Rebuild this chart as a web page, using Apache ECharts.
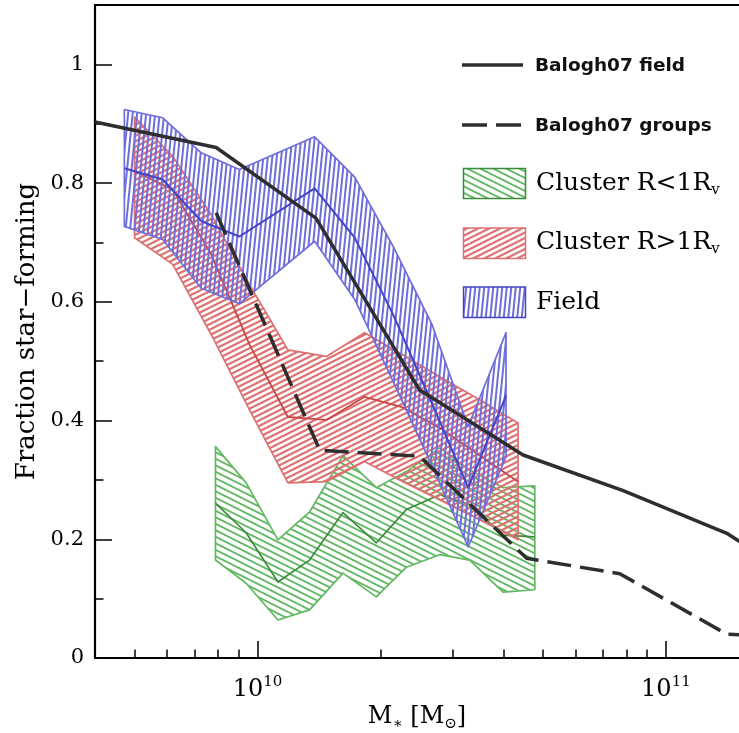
<!DOCTYPE html>
<html>
<head>
<meta charset="utf-8">
<script src="https://cdn.jsdelivr.net/npm/echarts@6/dist/echarts.min.js"></script>
<style>
  html, body { margin: 0; padding: 0; background: #fff; }
  #chart { width: 739px; height: 733px; }
</style>
</head>
<body>
<div id="chart"></div>
<script>
// Field galaxies: stellar mass bins and star-forming fraction (upper / median / lower)
const fieldMass   = [4.72e9, 5.86e9, 7.28e9, 9.03e9, 1.38e10, 1.73e10, 2.15e10, 2.67e10, 3.28e10, 4.06e10];
const fieldUpper  = [0.924, 0.910, 0.851, 0.823, 0.878, 0.810, 0.693, 0.563, 0.390, 0.548];
const fieldMedian = [0.825, 0.806, 0.736, 0.710, 0.791, 0.708, 0.578, 0.430, 0.287, 0.442];
const fieldLower  = [0.727, 0.705, 0.623, 0.597, 0.702, 0.604, 0.465, 0.325, 0.187, 0.339];

// Cluster outskirts, R > 1 R_v
const outerMass   = [5.0e9, 6.2e9, 7.7e9, 9.56e9, 1.187e10, 1.474e10, 1.829e10, 2.27e10, 2.82e10, 3.5e10, 4.345e10];
const outerUpper  = [0.911, 0.845, 0.747, 0.629, 0.519, 0.508, 0.548, 0.511, 0.472, 0.435, 0.396];
const outerMedian = [0.820, 0.789, 0.680, 0.528, 0.406, 0.401, 0.440, 0.422, 0.386, 0.341, 0.297];
const outerLower  = [0.708, 0.663, 0.545, 0.418, 0.295, 0.297, 0.331, 0.297, 0.265, 0.233, 0.199];

// Cluster cores, R < 1 R_v
const innerMass   = [7.89e9, 9.38e9, 1.122e10, 1.341e10, 1.619e10, 1.954e10, 2.314e10, 2.793e10, 3.309e10, 3.993e10, 4.775e10];
const innerUpper  = [0.356, 0.295, 0.199, 0.246, 0.341, 0.287, 0.314, 0.354, 0.317, 0.287, 0.290];
const innerMedian = [0.261, 0.211, 0.128, 0.165, 0.245, 0.194, 0.250, 0.275, 0.258, 0.207, 0.204];
const innerLower  = [0.165, 0.126, 0.064, 0.081, 0.143, 0.103, 0.153, 0.174, 0.165, 0.111, 0.115];

// Balogh et al. (2007) relations
const baloghFieldMass  = [4.0e9, 7.92e9, 1.39e10, 2.49e10, 4.47e10, 7.86e10, 1.41e11, 1.7e11];
const baloghField      = [0.903, 0.860, 0.741, 0.452, 0.342, 0.282, 0.210, 0.174];
const baloghGroupsMass = [7.92e9, 1.42e10, 2.49e10, 4.56e10, 7.71e10, 1.41e11, 1.7e11];
const baloghGroups     = [0.750, 0.350, 0.340, 0.168, 0.142, 0.040, 0.038];

// Axis ticks
const xMajorTicks = [1e10, 1e11];
const xMajorExponents = ['10', '11'];
const xMinorTicks = [5e9, 6e9, 7e9, 8e9, 9e9, 2e10, 3e10, 4e10, 5e10, 6e10, 7e10, 8e10, 9e10];
const yMajorTicks = [0, 0.2, 0.4, 0.6, 0.8, 1];
const yMinorTicks = [0.1, 0.3, 0.5, 0.7, 0.9];

const SERIF = '"DejaVu Serif", serif';
const BLUE = '#6e6edc', BLUE_DARK = '#4444c8';
const RED = '#de7070', RED_DARK = '#c84848';
const GREEN = '#62b862', GREEN_DARK = '#3a8a3a';
const BLACK = '#2e2e2e';

// Repeating hatch tiles
function makeHatch(w, h, color, lw, drawLines) {
  const c = document.createElement('canvas');
  c.width = w; c.height = h;
  const ctx = c.getContext('2d');
  ctx.strokeStyle = color;
  ctx.lineWidth = lw;
  ctx.beginPath();
  drawLines(ctx);
  ctx.stroke();
  return { image: c, repeat: 'repeat' };
}
// "\" lines, slope 0.5, vertical spacing 6.5
const greenHatch = makeHatch(26, 13, GREEN, 1.9, ctx => {
  for (let c = -39; c <= 26; c += 6.5) { ctx.moveTo(-4, c - 2); ctx.lineTo(30, c + 15); }
});
// "/" lines, slope -0.5, vertical spacing 5.5
const redHatch = makeHatch(22, 11, RED, 2.1, ctx => {
  for (let c = -11; c <= 33; c += 5.5) { ctx.moveTo(-4, c + 2); ctx.lineTo(26, c - 13); }
});
// near-vertical lines, spacing 4.5
const blueHatch = makeHatch(9, 45, BLUE, 2.0, ctx => {
  for (let c = -9; c <= 18; c += 4.5) { ctx.moveTo(c + 0.3, -3); ctx.lineTo(c - 4.8, 48); }
});

function band(name, mass, upper, lower, fill, stroke, z) {
  return {
    type: 'custom', name, z, silent: true, animation: false,
    data: mass.map((m, i) => [m, upper[i], lower[i]]),
    encode: { x: 0, y: [1, 2] },
    renderItem(params, api) {
      if (params.dataIndexInside !== 0) return null;
      const n = params.dataInsideLength;
      const top = [], bottom = [];
      for (let i = 0; i < n; i++) {
        top.push(api.coord([api.value(0, i), api.value(1, i)]));
        bottom.push(api.coord([api.value(0, i), api.value(2, i)]));
      }
      return {
        type: 'polygon',
        shape: { points: top.concat(bottom.reverse()) },
        style: { fill, stroke, lineWidth: 1.7, lineJoin: 'round' }
      };
    }
  };
}

function line(name, mass, vals, color, width, z, dash) {
  return {
    type: 'line', name, z, silent: true, animation: false,
    data: mass.map((m, i) => [m, vals[i]]),
    symbol: 'none',
    lineStyle: { color, width, type: dash || 'solid', cap: 'butt', join: 'round' }
  };
}

const xBase = { type: 'log', logBase: 10, min: 4e9, max: 1.51e11, splitLine: { show: false } };
const yBase = { type: 'value', min: 0, max: 1.1, splitLine: { show: false } };

const chart = echarts.init(document.getElementById('chart'), null, { renderer: 'canvas' });
chart.setOption({
  backgroundColor: '#fff',
  animation: false,
  grid: { left: 95, right: 0, top: 5, bottom: 75, containLabel: false, outerBoundsMode: 'none' },
  xAxis: [
    Object.assign({}, xBase, {
      position: 'bottom',
      axisLine: { show: true, onZero: false, lineStyle: { color: '#000', width: 2.2 } },
      axisTick: { show: true, inside: true, length: 17, customValues: xMajorTicks, lineStyle: { color: '#000', width: 1.5 } },
      axisLabel: {
        show: true, customValues: xMajorTicks, margin: 17, color: '#000',
        formatter: v => '10{sup|' + xMajorExponents[xMajorTicks.indexOf(v)] + '}',
        rich: {
          sup: { fontFamily: SERIF, fontSize: 15, color: '#000', verticalAlign: 'top', lineHeight: 30 }
        },
        fontFamily: SERIF, fontSize: 24, lineHeight: 30
      },
      name: 'M{sub|∗} [M{sub|⊙}]',
      nameLocation: 'middle', nameGap: 44, nameMoveOverlap: false,
      nameTextStyle: {
        fontFamily: SERIF, fontSize: 24, color: '#000', lineHeight: 30,
        rich: { sub: { fontFamily: SERIF, fontSize: 15, color: '#000', verticalAlign: 'bottom', lineHeight: 30 } }
      }
    }),
    Object.assign({}, xBase, {
      position: 'bottom',
      axisLine: { show: false },
      axisTick: { show: true, inside: true, length: 8.5, customValues: xMinorTicks, lineStyle: { color: '#000', width: 1.5 } },
      axisLabel: { show: false }
    }),
    Object.assign({}, xBase, {
      position: 'top',
      axisLine: { show: true, onZero: false, lineStyle: { color: '#000', width: 2.2 } },
      axisTick: { show: false },
      axisLabel: { show: false }
    })
  ],
  yAxis: [
    Object.assign({}, yBase, {
      position: 'left',
      axisLine: { show: true, onZero: false, lineStyle: { color: '#000', width: 2.2 } },
      axisTick: { show: true, inside: true, length: 17, customValues: yMajorTicks, lineStyle: { color: '#000', width: 1.5 } },
      axisLabel: { show: true, customValues: yMajorTicks, margin: 11, color: '#000', fontFamily: SERIF, fontSize: 21 },
      name: 'Fraction star−forming',
      nameLocation: 'middle', nameGap: 55, nameRotate: 90, nameMoveOverlap: false,
      nameTextStyle: { fontFamily: SERIF, fontSize: 26, color: '#000' }
    }),
    Object.assign({}, yBase, {
      position: 'left',
      axisLine: { show: false },
      axisTick: { show: true, inside: true, length: 8.5, customValues: yMinorTicks, lineStyle: { color: '#000', width: 1.5 } },
      axisLabel: { show: false }
    })
  ],
  series: [
    band('Cluster R<1Rv', innerMass, innerUpper, innerLower, greenHatch, GREEN, 1),
    line('Cluster R<1Rv median', innerMass, innerMedian, GREEN_DARK, 1.6, 1),
    band('Cluster R>1Rv', outerMass, outerUpper, outerLower, redHatch, RED, 2),
    line('Cluster R>1Rv median', outerMass, outerMedian, RED_DARK, 1.8, 2),
    band('Field', fieldMass, fieldUpper, fieldLower, blueHatch, BLUE, 3),
    line('Field median', fieldMass, fieldMedian, BLUE_DARK, 2, 3),
    line('Balogh07 field', baloghFieldMass, baloghField, BLACK, 3.5, 5),
    line('Balogh07 groups', baloghGroupsMass, baloghGroups, BLACK, 3.5, 5, [24, 9])
  ],
  graphic: [
    { type: 'line', shape: { x1: 462, y1: 65, x2: 523, y2: 65 }, style: { stroke: BLACK, lineWidth: 3.5 } },
    { type: 'text', x: 535, y: 66, style: { text: 'Balogh07 field', font: 'bold 18.5px "DejaVu Sans"', fill: '#111', verticalAlign: 'middle' } },
    { type: 'line', shape: { x1: 462, y1: 125, x2: 522, y2: 125 }, style: { stroke: BLACK, lineWidth: 3.5, lineDash: [25, 9] } },
    { type: 'text', x: 535, y: 126, style: { text: 'Balogh07 groups', font: 'bold 18.5px "DejaVu Sans"', fill: '#111', verticalAlign: 'middle' } },

    { type: 'rect', shape: { x: 463.5, y: 168.5, width: 62, height: 30 }, style: { fill: greenHatch, stroke: GREEN_DARK, lineWidth: 1.5 } },
    { type: 'text', x: 536, y: 183, style: {
        text: 'Cluster R<1R{sub|v}', fontFamily: SERIF, fontSize: 25, fill: '#000', lineHeight: 30, verticalAlign: 'middle',
        rich: { sub: { fontFamily: SERIF, fontSize: 15, fill: '#000', verticalAlign: 'bottom', lineHeight: 30 } } } },
    { type: 'rect', shape: { x: 463.5, y: 228, width: 62, height: 30.5 }, style: { fill: redHatch, stroke: RED, lineWidth: 1.5 } },
    { type: 'text', x: 536, y: 242, style: {
        text: 'Cluster R>1R{sub|v}', fontFamily: SERIF, fontSize: 25, fill: '#000', lineHeight: 30, verticalAlign: 'middle',
        rich: { sub: { fontFamily: SERIF, fontSize: 15, fill: '#000', verticalAlign: 'bottom', lineHeight: 30 } } } },
    { type: 'rect', shape: { x: 463.5, y: 287, width: 62, height: 30.5 }, style: { fill: blueHatch, stroke: BLUE_DARK, lineWidth: 1.5 } },
    { type: 'text', x: 536, y: 302, style: { text: 'Field', fontFamily: SERIF, fontSize: 25, fill: '#000', verticalAlign: 'middle' } }
  ]
});
</script>
</body>
</html>
